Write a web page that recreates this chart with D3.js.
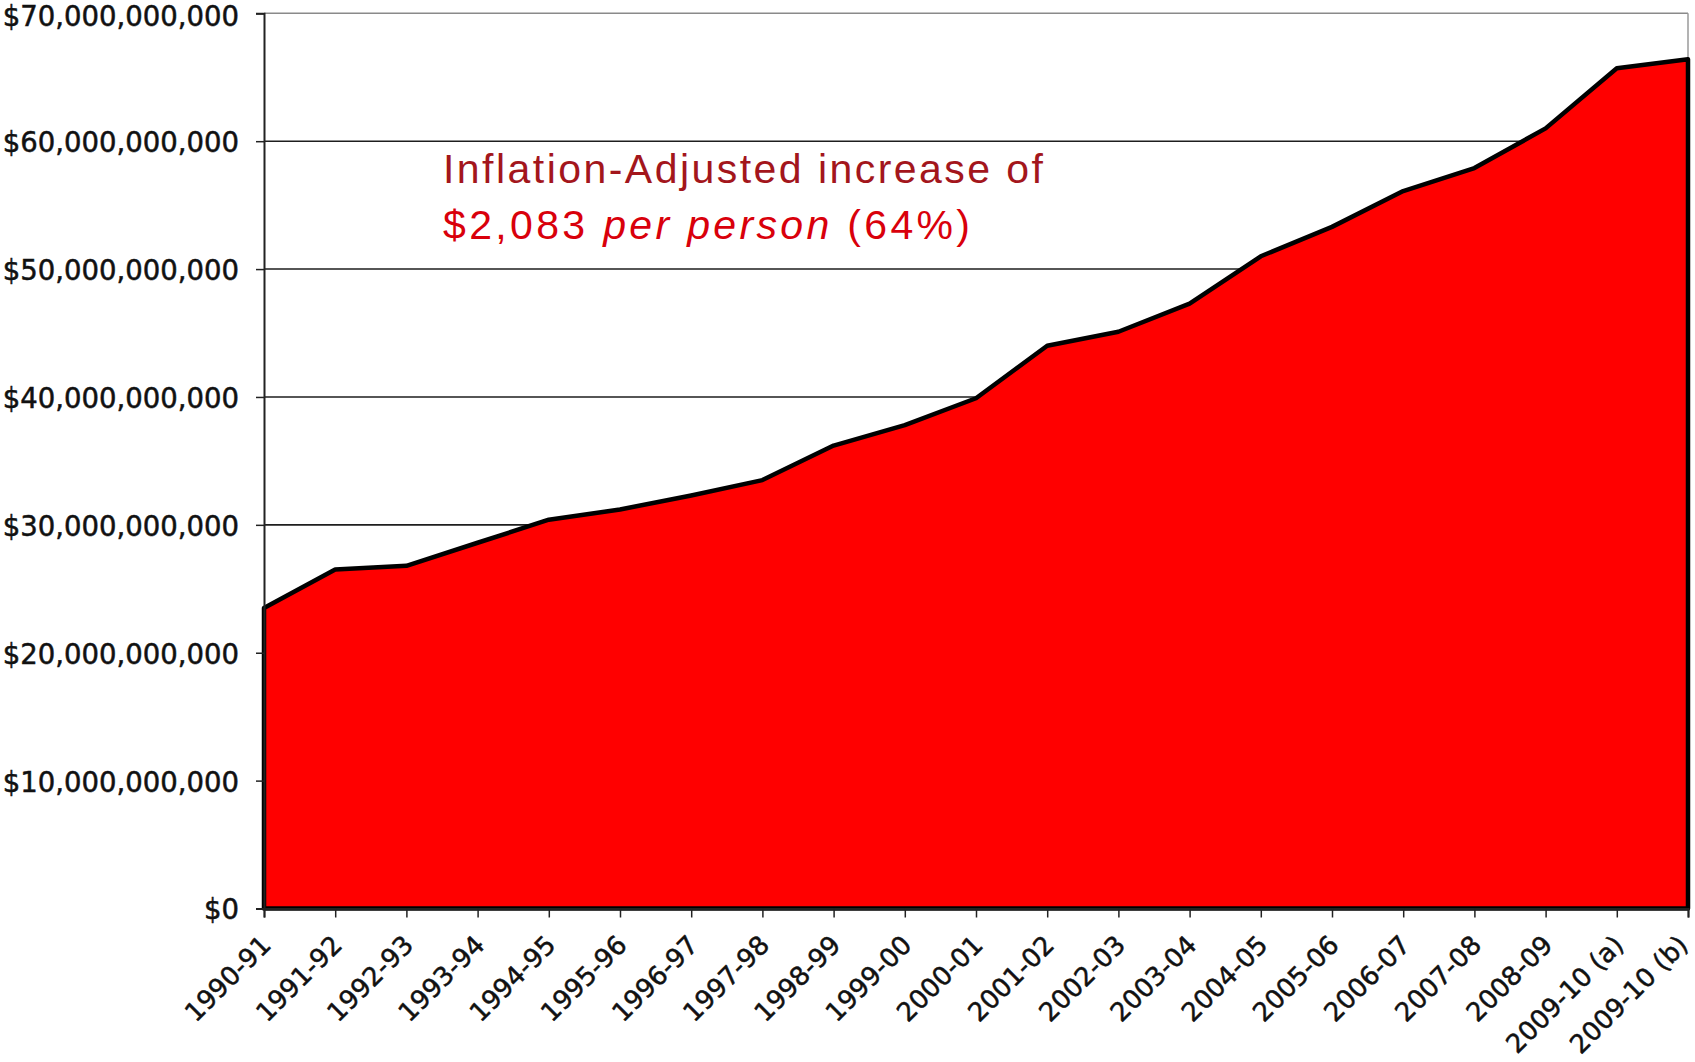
<!DOCTYPE html>
<html>
<head>
<meta charset="utf-8">
<script src="https://cdn.jsdelivr.net/npm/d3@7"></script>
<style>
  body { margin: 0; background: #fff; }
</style>
</head>
<body>
<div id="vis"></div>
<script>
// school years on the x axis
const years = ["1990-91", "1991-92", "1992-93", "1993-94", "1994-95", "1995-96", "1996-97",
  "1997-98", "1998-99", "1999-00", "2000-01", "2001-02", "2002-03", "2003-04", "2004-05",
  "2005-06", "2006-07", "2007-08", "2008-09", "2009-10 (a)", "2009-10 (b)"];

// inflation-adjusted spending, dollars
const spending = [23.5e9, 26.5e9, 26.8e9, 28.6e9, 30.4e9, 31.2e9, 32.3e9,
  33.5e9, 36.2e9, 37.8e9, 39.9e9, 44.0e9, 45.1e9, 47.3e9, 51.0e9,
  53.3e9, 56.1e9, 57.9e9, 61.0e9, 65.7e9, 66.4e9];

const yTicks = [0, 10e9, 20e9, 30e9, 40e9, 50e9, 60e9, 70e9];

const noteLine1 = "Inflation-Adjusted increase of";
const noteLine2 = [
  { text: "$2,083 ", italic: false },
  { text: "per person", italic: true },
  { text: " (64%)", italic: false }
];

function MyViz(id) {
  var cfg = {
    w: 1695,
    h: 1062,
    margin: { top: 13.3, right: 7, bottom: 153.5, left: 264 },
    fill: "#ff0000",
    font: "'DejaVu Sans', Verdana, sans-serif"
  };

  var innerW = cfg.w - cfg.margin.left - cfg.margin.right,
      innerH = cfg.h - cfg.margin.top - cfg.margin.bottom;

  d3.select(id).select("svg").remove();
  var svg = d3.select(id).append("svg")
    .attr("width", cfg.w)
    .attr("height", cfg.h);

  var g = svg.append("g")
    .attr("transform", "translate(" + cfg.margin.left + "," + cfg.margin.top + ")");

  var x = d3.scalePoint().domain(years).range([0, innerW]);
  var y = d3.scaleLinear().domain([0, 70e9]).range([innerH, 0]);

  // GRIDLINES
  g.append("g")
    .selectAll("line")
    .data(yTicks.filter(d => d > 0))
    .join("line")
    .attr("x1", 0)
    .attr("x2", innerW)
    .attr("y1", d => y(d))
    .attr("y2", d => y(d))
    .attr("stroke", d => d === 70e9 ? "#8a8a8a" : "#1e1e1e")
    .attr("stroke-width", 1.6);

  // right border of plot area
  g.append("line")
    .attr("x1", innerW).attr("x2", innerW)
    .attr("y1", 0).attr("y2", innerH)
    .attr("stroke", "#9a9a9a")
    .attr("stroke-width", 1.5);

  // AREA
  var area = d3.area()
    .x((d, i) => x(years[i]))
    .y0(y(0))
    .y1(d => y(d));

  g.append("path")
    .datum(spending)
    .attr("d", area)
    .attr("fill", cfg.fill)
    .attr("stroke", "#000")
    .attr("stroke-width", 4.5)
    .attr("stroke-linejoin", "round");

  // Y AXIS
  var yAxis = g.append("g")
    .call(d3.axisLeft(y)
      .tickValues(yTicks)
      .tickSize(8)
      .tickPadding(17)
      .tickFormat(d => "$" + d3.format(",")(d)));
  yAxis.select(".domain").attr("stroke", "#222").attr("stroke-width", 2);
  yAxis.selectAll(".tick line").attr("stroke", "#222").attr("stroke-width", 1.5);
  yAxis.selectAll(".tick text")
    .attr("font-family", cfg.font)
    .attr("font-size", 27.5)
    .attr("fill", "#111")
    .attr("stroke", "#111")
    .attr("stroke-width", 0.5)
    .attr("dy", "0.38em")
    .attr("y", d => d === 70e9 ? 2 : 0);   // keep top label inside the page

  // X AXIS
  var xAxis = g.append("g")
    .attr("transform", "translate(0," + innerH + ")")
    .call(d3.axisBottom(x).tickSize(9).tickPadding(0));
  xAxis.select(".domain").attr("stroke", "#222").attr("stroke-width", 2);
  xAxis.selectAll(".tick line").attr("stroke", "#222").attr("stroke-width", 1.5);
  xAxis.selectAll(".tick text")
    .attr("font-family", cfg.font)
    .attr("font-size", 26)
    .attr("fill", "#111")
    .attr("stroke", "#111")
    .attr("stroke-width", 0.5)
    .attr("text-anchor", "end")
    .attr("dy", 0)
    .attr("y", 0)
    // last label nudged in so it stays on the page
    .attr("transform", (d, i) => "translate(" + (i === years.length - 1 ? 1 : 8) + ",38) rotate(-45)");

  // ANNOTATION
  var note = svg.append("g")
    .attr("font-family", "'Liberation Sans', Arial, sans-serif")
    .attr("font-size", 41);

  note.append("text")
    .attr("x", 443)
    .attr("y", 183)
    .attr("fill", "#a3161c")
    .attr("textLength", 600)
    .attr("lengthAdjust", "spacing")
    .text(noteLine1);

  note.append("text")
    .attr("x", 443)
    .attr("y", 239)
    .attr("fill", "#d9000b")
    .attr("textLength", 527)
    .attr("lengthAdjust", "spacing")
    .selectAll("tspan")
    .data(noteLine2)
    .join("tspan")
    .attr("font-style", d => d.italic ? "italic" : "normal")
    .text(d => d.text);
}

MyViz("#vis");
</script>
</body>
</html>
